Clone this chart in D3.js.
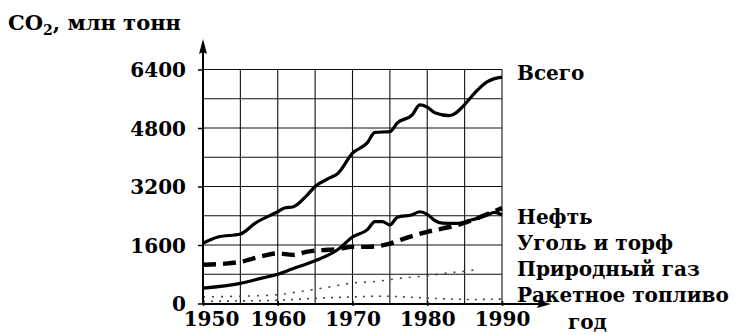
<!DOCTYPE html>
<html>
<head>
<meta charset="utf-8">
<script src="https://cdn.jsdelivr.net/npm/d3@7"></script>
<style>
  html, body { margin: 0; padding: 0; background: #fff; }
  svg { display: block; }
</style>
</head>
<body>
<svg id="chart" width="743" height="335"></svg>
<script>
// Выбросы CO2 по видам топлива, млн тонн
const totalYears = [1950, 1952, 1955, 1957, 1960, 1961, 1962, 1964, 1965, 1967, 1968, 1970, 1972, 1973, 1975, 1976, 1978, 1979, 1980, 1981, 1983, 1985, 1986, 1988, 1989, 1990];
const totalValues = [1650, 1820, 1900, 2200, 2510, 2620, 2640, 2980, 3200, 3440, 3550, 4110, 4400, 4680, 4700, 4940, 5160, 5430, 5370, 5220, 5140, 5440, 5680, 6060, 6150, 6190];

const oilYears = [1950, 1955, 1958, 1960, 1962, 1965, 1968, 1970, 1972, 1973, 1974, 1975, 1976, 1978, 1979, 1980, 1981, 1982, 1984, 1986, 1988, 1989, 1990];
const oilValues = [420, 550, 700, 800, 950, 1170, 1470, 1820, 2020, 2240, 2240, 2150, 2360, 2430, 2510, 2440, 2270, 2200, 2190, 2290, 2420, 2490, 2420];

const coalYears = [1950, 1953, 1955, 1958, 1960, 1962, 1964, 1966, 1968, 1970, 1972, 1974, 1975, 1977, 1980, 1982, 1984, 1986, 1988, 1990];
const coalValues = [1060, 1090, 1140, 1300, 1370, 1330, 1420, 1460, 1490, 1550, 1550, 1590, 1640, 1780, 1960, 2050, 2140, 2280, 2440, 2610];

const gasYears = [1950, 1955, 1960, 1963, 1966, 1970, 1973, 1976, 1980, 1983, 1985, 1987];
const gasValues = [180, 200, 240, 330, 420, 560, 600, 680, 760, 840, 880, 940];

const rocketYears = [1950, 1955, 1960, 1963, 1966, 1970, 1974, 1978, 1982, 1986, 1990];
const rocketValues = [60, 70, 90, 120, 150, 180, 200, 170, 130, 110, 120];

const seriesNames = ["Всего", "Нефть", "Уголь и торф", "Природный газ", "Ракетное топливо"];
const yTickValues = [0, 1600, 3200, 4800, 6400];
const xTickValues = [1950, 1960, 1970, 1980, 1990];
const yAxisTitle = "млн тонн";
const xAxisTitle = "год";

const FONT = "DejaVu Serif";
const svg = d3.select("#chart");

const x = d3.scaleLinear().domain([1950, 1990]).range([203, 502]);
const y = d3.scaleLinear().domain([0, 6400]).range([303.5, 69.5]);

// сетка: вертикали через 5 лет, горизонтали через 800
const grid = svg.append("g").attr("stroke", "#111").attr("stroke-width", 1.1);
grid.selectAll("line.v")
  .data(d3.range(1955, 1991, 5))
  .join("line")
  .attr("x1", d => x(d)).attr("x2", d => x(d))
  .attr("y1", y(0)).attr("y2", y(6400));
grid.selectAll("line.h")
  .data(d3.range(800, 6401, 800))
  .join("line")
  .attr("x1", x(1950)).attr("x2", x(1990))
  .attr("y1", d => y(d)).attr("y2", d => y(d));

// ряды
const pts = (ys, vs) => ys.map((yr, i) => [yr, vs[i]]);
const line = d3.line().x(d => x(d[0])).y(d => y(d[1])).curve(d3.curveMonotoneX);

const series = [
  { data: pts(totalYears, totalValues), width: 3.2, dash: null },
  { data: pts(oilYears, oilValues), width: 3.2, dash: null },
  { data: pts(coalYears, coalValues), width: 4.4, dash: "13,7" },
  { data: pts(gasYears, gasValues), width: 1.6, dash: "2,7" },
  { data: pts(rocketYears, rocketValues), width: 1.6, dash: "2,6" }
];

svg.append("g").selectAll("path")
  .data(series)
  .join("path")
  .attr("d", d => line(d.data))
  .attr("fill", "none")
  .attr("stroke", (d, i) => i >= 3 ? "#444" : "#000")
  .attr("stroke-width", d => d.width)
  .attr("stroke-dasharray", d => d.dash)
  .attr("stroke-linejoin", "round");

// оси со стрелками
const x0 = x(1950);
const axes = svg.append("g").attr("stroke", "#000").attr("stroke-width", 2);
axes.append("line").attr("x1", x0).attr("x2", 544).attr("y1", 304).attr("y2", 304);
axes.append("line").attr("x1", x0).attr("x2", x0).attr("y1", 304).attr("y2", 48);
svg.append("path").attr("d", `M551,304 L537,300 L539,304 L537,308 Z`).attr("fill", "#000");
svg.append("path").attr("d", `M${x0},39 L${x0 - 4},54 L${x0},52 L${x0 + 4},54 Z`).attr("fill", "#000");

// деления и подписи оси Y
const yAxis = d3.axisLeft(y).tickValues(yTickValues).tickSize(5).tickPadding(12).tickFormat(d3.format("d"));
const yg = svg.append("g").attr("transform", `translate(${x0},0)`).call(yAxis)
  .attr("font-family", FONT).attr("font-size", 20).attr("font-weight", "bold");
yg.select(".domain").remove();
yg.selectAll("line").attr("stroke", "#000").attr("stroke-width", 1.5);
yg.selectAll("text").attr("fill", "#000").attr("dy", "0.36em");

// подписи оси X
const xAxis = d3.axisBottom(x).tickValues(xTickValues).tickSize(5).tickPadding(6).tickFormat(d3.format("d"));
const xg = svg.append("g").attr("transform", `translate(0,${y(0) - 2.5})`).call(xAxis)
  .attr("font-family", FONT).attr("font-size", 20).attr("font-weight", "bold");
xg.select(".domain").remove();
xg.selectAll("line").attr("stroke", "#000").attr("stroke-width", 1.5);
xg.selectAll("text").attr("fill", "#000").attr("dx", d => d === 1950 ? 8 : 0);

// текстовые подписи
const txt = svg.append("g").attr("font-family", FONT).attr("font-size", 20).attr("font-weight", "bold").attr("fill", "#000");

const title = txt.append("text").attr("x", 8).attr("y", 30).attr("font-size", 21);
title.append("tspan").text("CO");
title.append("tspan").attr("font-size", 14).attr("dy", 5).text("2");
title.append("tspan").attr("dy", -5).text(", " + yAxisTitle);

txt.append("text").attr("x", 568).attr("y", 329).text(xAxisTitle);

// подписи рядов
const labelY = [80, 224, 250, 276, 302];
txt.selectAll("text.series")
  .data(seriesNames)
  .join("text")
  .attr("class", "series")
  .attr("x", 517)
  .attr("y", (d, i) => labelY[i])
  .text(d => d);
</script>
</body>
</html>
